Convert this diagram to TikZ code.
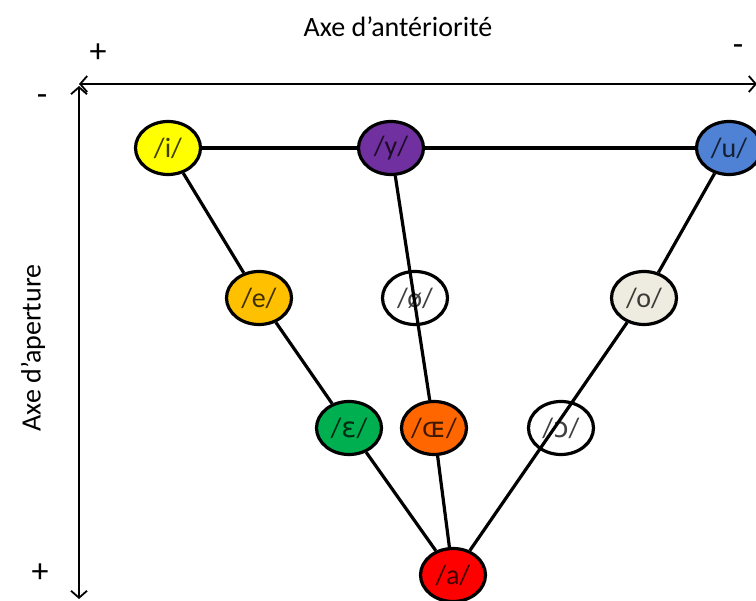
\documentclass[tikz,border=0pt]{standalone}
\usepackage{fontspec}
\setmainfont{Carlito}
\newfontfamily\ipafont{DejaVu Sans}
\usetikzlibrary{shapes.geometric,arrows.meta}
\definecolor{cyellow}{HTML}{FFFF00}
\definecolor{cpurple}{HTML}{7030A0}
\definecolor{cblue}{HTML}{4F81D5}
\definecolor{cgold}{HTML}{FFC000}
\definecolor{cgrey}{HTML}{EEECE1}
\definecolor{cgreen}{HTML}{00B050}
\definecolor{corange}{HTML}{FF6600}
\definecolor{cred}{HTML}{FF0000}
\begin{document}
\begin{tikzpicture}[x={(1pt,0)},y={(0,-1pt)},
  vowel/.style={ellipse,draw=black,line width=3.2pt,minimum width=65pt,minimum height=53pt,inner sep=0pt,font=\fontsize{28}{30}\selectfont,text opacity=0.75},
  link/.style={line width=3.2pt},
  axis/.style={line width=1.8pt,{Straight Barb[length=7pt,width=16pt,line width=1.8pt]}-{Straight Barb[length=7pt,width=16pt,line width=1.8pt]}},
  lab/.style={font=\fontsize{28}{30}\selectfont},
  sign/.style={font=\fontsize{34}{36}\selectfont}]
\useasboundingbox (0,0) rectangle (756,601);
\clip (0,0) rectangle (756,601);
\fill[white] (0,0) rectangle (756,601);
% axes
\coordinate (hl) at (79,84);
\coordinate (hr) at (757,84);
\coordinate (vt) at (79,86);
\coordinate (vb) at (79,599);
\draw[axis] (hl) -- (hr);
\draw[axis] (vt) -- (vb);
\node[lab] (tha) at (398,27) {Axe d’antériorité};
\node[sign] (hp) at (98,53) {+};
\node[sign] (hm) at (738,50) {-};
\node[sign] (vm) at (42,100) {-};
\node[sign] (vp) at (40,573) {+};
\node[lab,rotate=90] (tva) at (33,348) {Axe d’aperture};
% vowels
\node[vowel,fill=cyellow] (i) at (168,148) {/i/};
\node[vowel,fill=cpurple] (y) at (391,148) {/y/};
\node[vowel,fill=cblue] (u) at (729,148) {/u/};
\node[vowel,fill=cgold] (e) at (259,298) {/e/};
\node[vowel] (oslash) at (415,298) {/ø/};
\node[vowel,fill=cgrey] (o) at (644,298) {/o/};
\node[vowel,fill=cgreen] (eps) at (349,428) {/{\ipafont ɛ}/};
\node[vowel,fill=corange] (oe) at (434,428) {/{\ipafont ɶ}/};
\node[vowel] (openo) at (561,428) {/{\ipafont ɔ}/};
\node[vowel,fill=cred] (a) at (453,575) {/a/};
% links
\draw[link] (i) -- (y);
\draw[link] (y) -- (u);
\draw[link] (i) -- (e);
\draw[link] (e) -- (eps);
\draw[link] (eps) -- (a);
\draw[link] (y) -- (oe);
\draw[link] (oe) -- (a);
\draw[link] (u) -- (o);
\draw[link] (o) -- (a);
\end{tikzpicture}
\end{document}
